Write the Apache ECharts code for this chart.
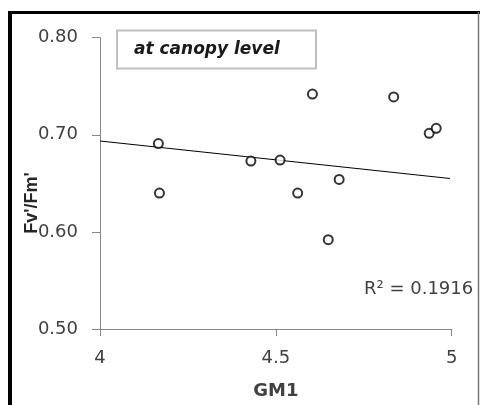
<!DOCTYPE html>
<html>
<head>
<meta charset="utf-8">
<script src="https://cdn.jsdelivr.net/npm/echarts@6/dist/echarts.min.js"></script>
<style>
html, body { margin: 0; padding: 0; background: #fff; }
#scatter { width: 480px; height: 405px; }
</style>
</head>
<body>
<div id="scatter"></div>
<script>
// values
var gm1  = [4.166, 4.169, 4.429, 4.512, 4.562, 4.604, 4.649, 4.680, 4.835, 4.936, 4.956];
var fvfm = [0.691, 0.640, 0.673, 0.674, 0.640, 0.742, 0.592, 0.654, 0.739, 0.7015, 0.7067];
var trendX = [4, 4.995];
var trendY = [0.6936, 0.655];
var xTicks = [4, 4.5, 5];
var yTicks = [0.5, 0.6, 0.7, 0.8];
var rSquared = 'R\u00b2 = 0.1916';
var panelTitle = 'at canopy level';
var yName = "Fv'/Fm'";
var xName = 'GM1';

var dom = document.getElementById('scatter');
var myChart = echarts.init(dom);

var points = gm1.map(function (x, i) { return [x, fvfm[i]]; });
var trend = trendX.map(function (x, i) { return [x, trendY[i]]; });
var axisGray = '#868686';
var labelFont = 'DejaVu Sans';

var option = {
    backgroundColor: '#fff',
    animation: false,
    grid: { left: 100, top: 37.7, right: 28.3, bottom: 76 },
    xAxis: {
        type: 'value',
        min: xTicks[0],
        max: xTicks[xTicks.length - 1],
        interval: xTicks[1] - xTicks[0],
        name: xName,
        nameLocation: 'middle',
        nameGap: 53,
        nameTextStyle: { fontFamily: labelFont, fontWeight: 'bold', fontSize: 18, color: '#404040' },
        axisLine: { show: true, lineStyle: { color: axisGray, width: 1 } },
        axisTick: { show: true, length: 7, lineStyle: { color: axisGray } },
        splitLine: { show: false },
        axisLabel: { margin: 20, fontFamily: labelFont, fontSize: 18, color: '#404040',
            formatter: function (v) { return String(v); } }
    },
    yAxis: {
        type: 'value',
        min: yTicks[0],
        max: yTicks[yTicks.length - 1],
        interval: 0.1,
        axisLine: { show: true, lineStyle: { color: axisGray, width: 1 } },
        axisTick: { show: true, length: 8, lineStyle: { color: axisGray } },
        splitLine: { show: false },
        axisLabel: { margin: 22, fontFamily: labelFont, fontSize: 18, color: '#404040',
            formatter: function (v) { return v.toFixed(2); } }
    },
    graphic: [
        // outer frame
        { type: 'line', shape: { x1: 8, y1: 12.5, x2: 480, y2: 12.5 }, style: { stroke: '#000', lineWidth: 3 } },
        { type: 'line', shape: { x1: 10, y1: 11, x2: 10, y2: 405 }, style: { stroke: '#000', lineWidth: 4 } },
        { type: 'line', shape: { x1: 478.5, y1: 12, x2: 478.5, y2: 405 }, style: { stroke: '#777', lineWidth: 1.5 } },
        // panel title box
        { type: 'rect', shape: { x: 117, y: 30.5, width: 199, height: 38 },
          style: { fill: '#fff', stroke: '#c0c0c0', lineWidth: 2 }, z: 10 },
        { type: 'text', x: 134, y: 50, z: 11,
          style: { text: panelTitle, fontFamily: labelFont, fontStyle: 'italic', fontWeight: 'bold',
                   fontSize: 17, fill: '#1a1a1a', textAlign: 'left', textVerticalAlign: 'middle' } },
        // R squared
        { type: 'text', x: 364, y: 289, z: 11,
          style: { text: rSquared, fontFamily: labelFont, fontSize: 18, fill: '#404040',
                   textAlign: 'left', textVerticalAlign: 'middle' } },
        // y axis name
        { type: 'text', x: 32, y: 203, rotation: Math.PI / 2, z: 11,
          style: { text: yName, fontFamily: 'Liberation Sans', fontWeight: 'bold', fontSize: 18,
                   fill: '#262626', textAlign: 'center', textVerticalAlign: 'middle' } }
    ],
    series: [
        {
            type: 'line',
            data: trend,
            symbol: 'none',
            lineStyle: { color: '#000', width: 1 },
            silent: true,
            z: 2
        },
        {
            type: 'scatter',
            data: points,
            symbol: 'circle',
            symbolSize: 9,
            itemStyle: { color: '#fff', borderColor: '#000', borderWidth: 2 },
            z: 3
        }
    ]
};
if (option && typeof option === 'object') {
    myChart.setOption(option, true);
}
</script>
</body>
</html>
